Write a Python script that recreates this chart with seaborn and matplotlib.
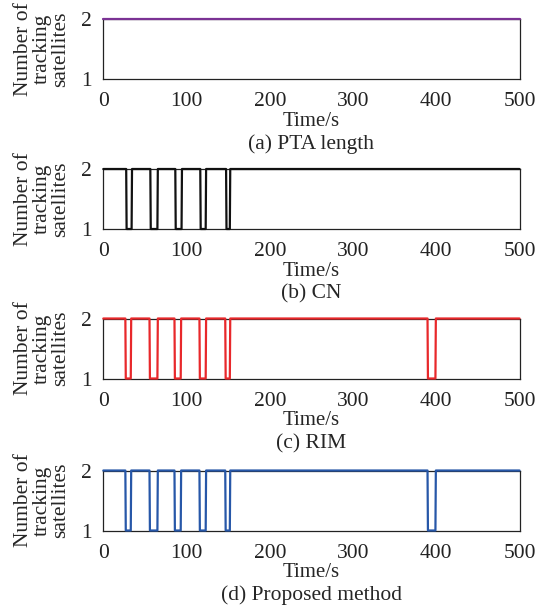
import numpy as np
import pandas as pd
import matplotlib
matplotlib.use("Agg")
import matplotlib.pyplot as plt
import seaborn as sns

sns.set_style("white")
plt.rcParams['font.family'] = ['Liberation Serif', 'DejaVu Serif']
plt.rcParams['mathtext.fontset'] = 'stix'

# ---- data ----
time_end = 500
captions = ["(a) PTA length", "(b) CN", "(c) RIM", "(d) Proposed method"]
colors = ["#7B3294", "#111111", "#E8282B", "#2757A8"]
# dips (start, end) in seconds where tracking satellites drop from 2 to 1
dips_pta = []
dips_cn = [(28, 34), (57, 65), (87, 94), (117, 123), (148, 152)]
dips_rim = [(27, 33), (56, 65), (86, 93), (116, 123), (147, 152), (390, 399)]
dips_prop = [(27, 33), (56, 65), (86, 93), (116, 123), (147, 152), (390, 399)]
all_dips = [dips_pta, dips_cn, dips_rim, dips_prop]
x_ticks = [0, 100, 200, 300, 400, 500]
y_ticks = [1, 2]
ylabel = "Number of\ntracking\nsatellites"
xlabel = "Time/s"

W, H = 536, 613
fig = plt.figure(figsize=(W / 100, H / 100), dpi=100)

left_px, right_px = 103.3, 519.5
tops = [19.3, 169, 318.5, 470.5]
ax_h = 60

for i in range(4):
    top = tops[i]
    ax = fig.add_axes([left_px / W, 1 - (top + ax_h) / H,
                       (right_px - left_px) / W, ax_h / H])
    t = np.arange(0, time_end + 0.25, 0.5)
    v = np.full(t.shape, 2.0)
    for s, e in all_dips[i]:
        v[(t >= s) & (t <= e)] = 1.0
    df = pd.DataFrame({"t": t, "v": v})
    sns.lineplot(data=df, x="t", y="v", ax=ax, color=colors[i], lw=1.6,
                 clip_on=False, zorder=5)
    ax.set_xlim(0, 500)
    ax.set_ylim(1, 2)
    ax.set_xticks(x_ticks)
    ax.set_yticks(y_ticks)
    ax.tick_params(direction="in", length=4, width=0.8, labelsize=15.5,
                   colors="#222222", pad=9.5)
    ax.tick_params(axis="y", pad=8)
    for sp in ax.spines.values():
        sp.set_linewidth(0.9)
        sp.set_color("#222222")
    ax.set_xlabel(xlabel, fontsize=15, labelpad=0.5)
    ax.set_ylabel(ylabel, fontsize=15.5, linespacing=1.0, va="center")
    ax.yaxis.set_label_coords(-0.147, 0.5)
    fig.text((left_px + right_px) / 2 / W, 1 - (top + ax_h + 65) / H,
             captions[i], ha="center", va="center", fontsize=15.5)

fig.savefig("out.png", dpi=100)
